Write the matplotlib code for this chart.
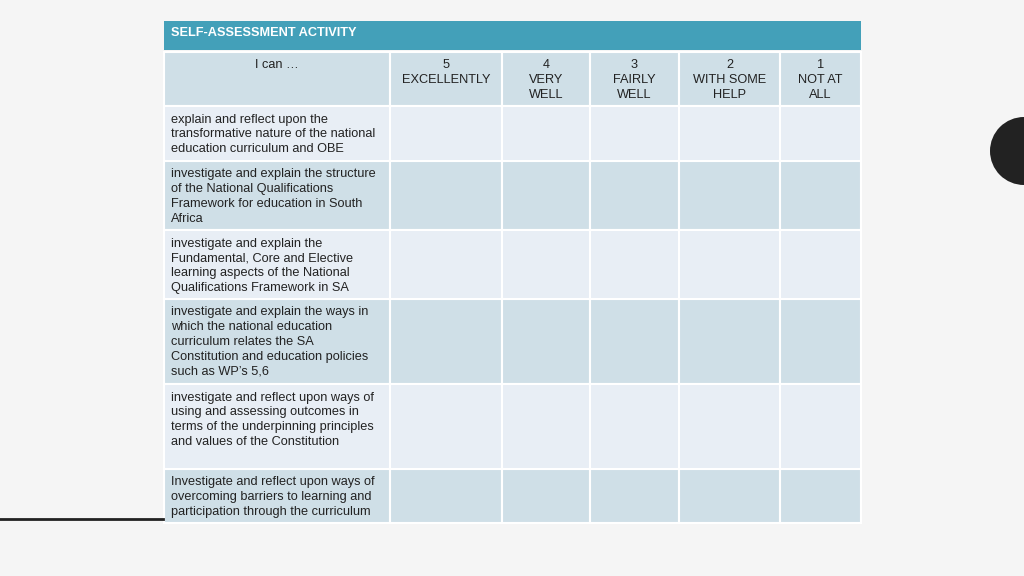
import matplotlib.pyplot as plt
from matplotlib.patches import Rectangle, Circle

title = 'SELF-ASSESSMENT ACTIVITY'
col_heads = ['I can …', '5\nEXCELLENTLY', '4\nVERY\nWELL', '3\nFAIRLY\nWELL',
             '2\nWITH SOME\nHELP', '1\nNOT AT\nALL']
statements = [
    'explain and reflect upon the\ntransformative nature of the national\neducation curriculum and OBE',
    'investigate and explain the structure\nof the National Qualifications\nFramework for education in South\nAfrica',
    'investigate and explain the\nFundamental, Core and Elective\nlearning aspects of the National\nQualifications Framework in SA',
    'investigate and explain the ways in\nwhich the national education\ncurriculum relates the SA\nConstitution and education policies\nsuch as WP\u2019s 5,6',
    'investigate and reflect upon ways of\nusing and assessing outcomes in\nterms of the underpinning principles\nand values of the Constitution',
    'Investigate and reflect upon ways of\novercoming barriers to learning and\nparticipation through the curriculum',
]

# layout in pixels
col_x = [164, 390, 502, 590, 679, 780, 861]
row_y = [52, 106, 161, 230, 299, 384, 469, 523]

plt.rcParams['font.family'] = ['Liberation Sans', 'DejaVu Sans']
fig = plt.figure(figsize=(10.24, 5.76), dpi=100, facecolor='#f5f5f5')
ax = fig.add_axes([0, 0, 1, 1])
ax.set_xlim(0, 1024)
ax.set_ylim(576, 0)
ax.axis('off')

dark = '#cfdfe7'
light = '#e8eef5'
txt = '#222222'

ax.add_patch(Rectangle((164, 21), 697, 29, facecolor='#43a0b9', edgecolor='none'))
ax.text(171, 33, title, color='white', fontsize=9.2, fontweight='bold', va='center')

for r in range(len(row_y) - 1):
    fc = light if r % 2 == 1 else dark
    for c in range(len(col_x) - 1):
        ax.add_patch(Rectangle((col_x[c], row_y[r]), col_x[c + 1] - col_x[c], row_y[r + 1] - row_y[r],
                               facecolor=fc, edgecolor='white', linewidth=1.5))

for c, h in enumerate(col_heads):
    ax.text((col_x[c] + col_x[c + 1]) / 2, 59.5, h, ha='center', va='top', fontsize=9.2,
            color=txt, linespacing=1.31)

for r, s in enumerate(statements):
    ax.text(171, row_y[r + 1] + 7.5, s, ha='left', va='top', fontsize=9.2, color=txt, linespacing=1.31)

ax.add_patch(Circle((1024, 151), 34, facecolor='#222222', edgecolor='none'))
ax.plot([0, 163], [519, 519], color='#222222', linewidth=2)

fig.savefig('out.png', dpi=100, facecolor=fig.get_facecolor())
